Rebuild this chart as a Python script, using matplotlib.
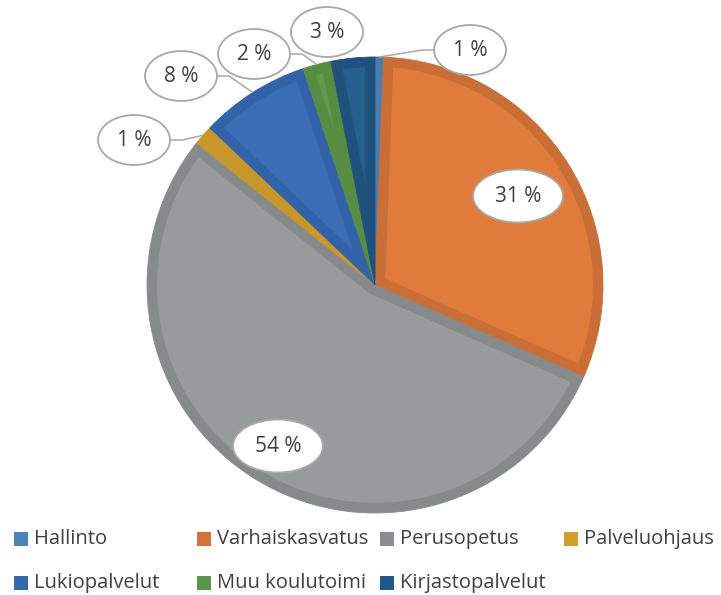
import matplotlib
matplotlib.use("Agg")
import matplotlib.pyplot as plt
from matplotlib.patches import Ellipse, Rectangle, Polygon
import numpy as np

# ---- data ----
categories = ["Hallinto", "Varhaiskasvatus", "Perusopetus", "Palveluohjaus",
              "Lukiopalvelut", "Muu koulutoimi", "Kirjastopalvelut"]
shares = [0.6, 31.0, 54.1, 1.4, 7.8, 2.0, 3.1]
labels = ["1 %", "31 %", "54 %", "1 %", "8 %", "2 %", "3 %"]

# ---- style ----
face_colors = ["#5088BE", "#E07B3B", "#979B9B", "#DCA531",
               "#3A6EB5", "#5F9B4A", "#255F8E"]
edge_colors = ["#4A7DB0", "#C86E36", "#878A8B", "#C99629",
               "#3263A8", "#568D43", "#1F527D"]
legend_colors = ["#4D83B7", "#D3723A", "#8A8D8F", "#D49E2F",
                 "#3668AE", "#5A9446", "#22578A"]
plt.rcParams["font.family"] = ["Open Sans", "DejaVu Sans"]
TXT = "#404040"

W, H = 721, 595
CX, CY, R = 375, 285, 228  # pie centre and radius in pixels
BORDER = 10 / R            # inner border width (data units)

fig = plt.figure(figsize=(W / 100, H / 100), dpi=100)
ax = fig.add_axes([0, 0, 1, 1])

wedges, _ = ax.pie(shares, colors=edge_colors, startangle=90, counterclock=False,
                   radius=1.0, wedgeprops=dict(linewidth=0.6))
for w, ec in zip(wedges, edge_colors):
    w.set_edgecolor(ec)


def arc(r, a_from, a_to, n=80):
    t = np.linspace(a_from, a_to, n)
    return np.column_stack([r * np.cos(t), r * np.sin(t)])


def inset_shape(t1, t2, d):
    a1, a2 = np.deg2rad(t1), np.deg2rad(t2)
    half = (a2 - a1) / 2
    rp = 1 - d
    t = np.sqrt(rp ** 2 - d ** 2)
    phi1 = a1 + np.arctan2(d, t)
    phi2 = a2 - np.arctan2(d, t)
    if phi2 <= phi1:
        return None
    outer = arc(rp, phi1, phi2)
    if half < np.pi / 2:
        if d / np.tan(half) >= t:
            return None
        bis = (a1 + a2) / 2
        v = d / np.sin(half)
        V = np.array([[v * np.cos(bis), v * np.sin(bis)]])
        return np.vstack([V, outer])
    inner = arc(d, a2 - np.pi / 2, a1 + np.pi / 2)
    return np.vstack([outer, inner])


for w, fc in zip(wedges, face_colors):
    pts = inset_shape(w.theta1, w.theta2, BORDER)
    if pts is not None:
        ax.add_patch(Polygon(pts, closed=True, facecolor=fc, edgecolor="none",
                             zorder=w.get_zorder() + 0.1))

ax.set_xlim(-CX / R, (W - CX) / R)
ax.set_ylim(-(H - CY) / R, CY / R)
ax.set_aspect("equal")
ax.axis("off")


def px2d(px, py):
    return (px - CX) / R, (CY - py) / R


# label layout (pixel centres of the callout ellipses)
label_centers = [(470, 50), (518, 196), (278, 446), (134, 140),
                 (181, 76), (254, 54), (327, 32)]
label_sizes = [(72, 50), (90, 53), (90, 53), (72, 50), (72, 50), (72, 50), (72, 50)]
draw_leader = [True, False, False, True, True, True, False]

for w, lab, (lx, ly), (ew, eh), lead in zip(wedges, labels, label_centers,
                                            label_sizes, draw_leader):
    cx, cy = px2d(lx, ly)
    ell = Ellipse((cx, cy), ew / R, eh / R, facecolor="white",
                  edgecolor="#A8A8A8", linewidth=1.3, zorder=5)
    ax.add_patch(ell)
    ax.text(cx, cy, lab, ha="center", va="center", fontsize=15, color=TXT, zorder=6)
    if lead:
        mid = np.deg2rad((w.theta1 + w.theta2) / 2)
        ax_, ay_ = np.cos(mid), np.sin(mid)
        side = -1 if cx > ax_ else 1
        ex = cx + side * ew / 2 / R
        elbow_x = ex + side * 12 / R
        ax.plot([ax_, elbow_x, ex], [ay_, cy, cy], color="#A8A8A8",
                linewidth=1.1, zorder=4, solid_capstyle="butt")

# ---- legend (manual, Excel-like) ----
legend_x = [14, 197, 380, 564, 14, 197, 380]
legend_y = [539, 539, 539, 539, 583, 583, 583]
for name, col, x, y in zip(categories, legend_colors, legend_x, legend_y):
    fig.patches.append(Rectangle((x / W, 1 - (y + 7) / H), 14 / W, 14 / H,
                                 transform=fig.transFigure, facecolor=col,
                                 edgecolor="none"))
    fig.text((x + 20) / W, 1 - y / H, name, ha="left", va="center",
             fontsize=14.5, color=TXT)

fig.savefig("out.png", dpi=100)
